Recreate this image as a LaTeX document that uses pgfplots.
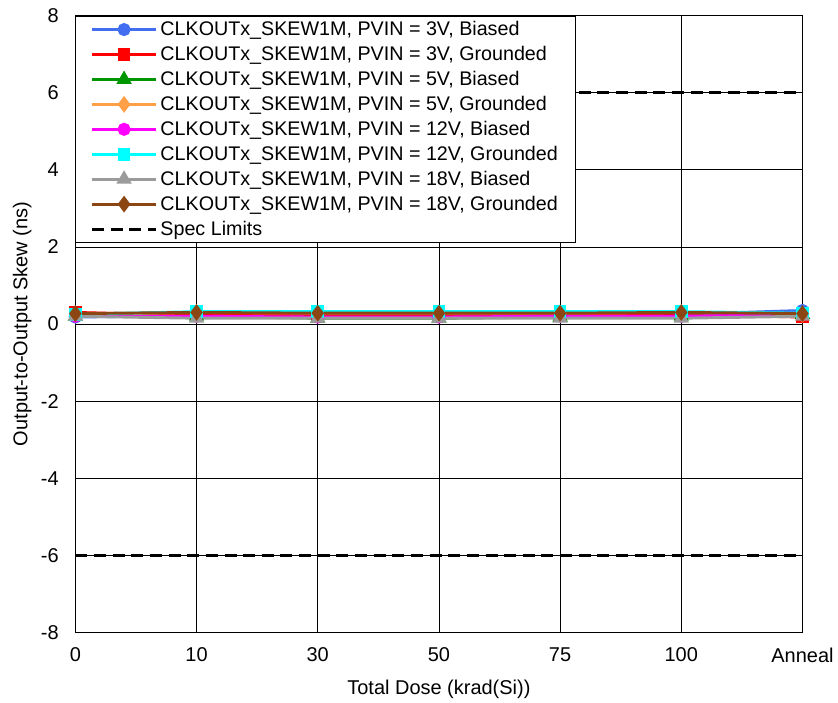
\documentclass[border=0pt]{standalone}
\usepackage{pgfplots}
\pgfplotsset{compat=1.18}
\usepackage{fontspec}
\setmainfont{Liberation Sans}
\definecolor{cblue}{RGB}{65,110,240}
\definecolor{cred}{RGB}{255,0,0}
\definecolor{cgreen}{RGB}{0,150,0}
\definecolor{corange}{RGB}{255,160,70}
\definecolor{cmag}{RGB}{255,0,255}
\definecolor{ccyan}{RGB}{0,255,255}
\definecolor{cgrey}{RGB}{155,155,155}
\definecolor{cbrown}{RGB}{140,70,20}
\begin{document}
\begin{tikzpicture}
\begin{axis}[
  scale only axis, width=546pt, height=463pt,
  xmin=0, xmax=6, ymin=-8, ymax=8,
  xtick={0,1,2,3,4,5,6},
  xticklabels={0,10,30,50,75,100,Anneal},
  ytick={-8,-6,-4,-2,0,2,4,6,8},
  grid=major, major grid style={black, line width=0.6pt},
  axis line style={black, line width=0.9pt},
  tick style={draw=none},
  /pgf/number format/assume math mode=true,
  ticklabel style={font=\fontsize{15}{17}\selectfont},
  yticklabel style={xshift=-9pt},
  xticklabel style={yshift=-8pt},
  label style={font=\fontsize{15}{17}\selectfont},
  xlabel={Total Dose (krad(Si))},
  ylabel={Output-to-Output Skew (ns)},
  xlabel style={at={([yshift=-42.75pt]axis description cs:0.5,0)}, anchor=center},
  ylabel style={at={([xshift=-40pt]axis description cs:0,0.5)}, anchor=center},
  legend style={at={(0,1)}, anchor=north west, draw=black, line width=0.6pt,
    font=\fontsize{14.8}{17}\selectfont, row sep=2.5pt, inner xsep=11pt, inner ysep=2pt,
    legend cell align=left},
  legend image code/.code={
    \draw[mark repeat=2,mark phase=2,#1] plot coordinates {(0cm,0cm) (0.85cm,0cm) (1.7cm,0cm)};},
  every axis plot/.append style={line width=2.2pt},
]
\addplot[cblue, mark=*, mark size=3.8pt, mark options={fill=cblue}] coordinates {(0,0.18)(1,0.22)(2,0.2)(3,0.2)(4,0.22)(5,0.25)(6,0.35)};
\addlegendentry{CLKOUTx\_SKEW1M, PVIN = 3V, Biased}
\addplot[cred, mark=square*, mark size=3.6pt, mark options={fill=cred}] coordinates {(0,0.3)(1,0.22)(2,0.22)(3,0.22)(4,0.25)(5,0.25)(6,0.18)};
\addlegendentry{CLKOUTx\_SKEW1M, PVIN = 3V, Grounded}
\addplot[cgreen, mark=triangle*, mark size=4.5pt, mark options={fill=cgreen}] coordinates {(0,0.2)(1,0.2)(2,0.15)(3,0.15)(4,0.18)(5,0.2)(6,0.25)};
\addlegendentry{CLKOUTx\_SKEW1M, PVIN = 5V, Biased}
\addplot[corange, mark=diamond*, mark size=4.5pt, mark options={fill=corange}] coordinates {(0,0.25)(1,0.3)(2,0.28)(3,0.28)(4,0.28)(5,0.3)(6,0.25)};
\addlegendentry{CLKOUTx\_SKEW1M, PVIN = 5V, Grounded}
\addplot[cmag, mark=*, mark size=3.8pt, mark options={fill=cmag}] coordinates {(0,0.2)(1,0.2)(2,0.18)(3,0.18)(4,0.2)(5,0.2)(6,0.25)};
\addlegendentry{CLKOUTx\_SKEW1M, PVIN = 12V, Biased}
\addplot[ccyan, mark=square*, mark size=3.6pt, mark options={fill=ccyan}] coordinates {(0,0.25)(1,0.32)(2,0.32)(3,0.32)(4,0.32)(5,0.32)(6,0.28)};
\addlegendentry{CLKOUTx\_SKEW1M, PVIN = 12V, Grounded}
\addplot[cgrey, mark=triangle*, mark size=4.5pt, mark options={fill=cgrey}] coordinates {(0,0.2)(1,0.15)(2,0.15)(3,0.15)(4,0.15)(5,0.15)(6,0.2)};
\addlegendentry{CLKOUTx\_SKEW1M, PVIN = 18V, Biased}
\addplot[cbrown, mark=diamond*, mark size=4.5pt, mark options={fill=cbrown}] coordinates {(0,0.27)(1,0.3)(2,0.28)(3,0.28)(4,0.28)(5,0.3)(6,0.27)};
\addlegendentry{CLKOUTx\_SKEW1M, PVIN = 18V, Grounded}
\addplot[black, line width=2.2pt, dash pattern=on 9pt off 5pt, mark=none] coordinates {(0,6)(1,6)(2,6)(3,6)(4,6)(5,6)(6,6)};
\addlegendentry{Spec Limits}
\addplot[black, line width=2.2pt, dash pattern=on 9pt off 5pt, mark=none, forget plot] coordinates {(0,-6)(1,-6)(2,-6)(3,-6)(4,-6)(5,-6)(6,-6)};
\end{axis}
\path ([xshift=-56.6pt,yshift=-51pt]current axis.south west);
\path ([xshift=25.5pt,yshift=11.8pt]current axis.north east);
\end{tikzpicture}
\end{document}
